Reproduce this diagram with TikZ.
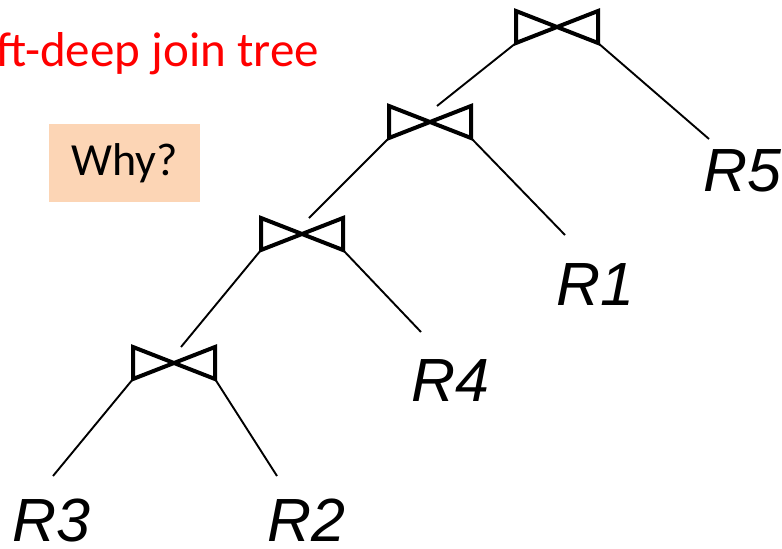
\documentclass[tikz,border=0pt]{standalone}
\usepackage{fontspec}
\setmainfont{Liberation Sans}
\newfontfamily\calfont{Carlito}
\definecolor{peach}{RGB}{252,213,181}
\begin{document}
\begin{tikzpicture}[x=1pt,y=-1pt,
  joinbox/.style={minimum width=82pt,minimum height=32pt,inner sep=0pt,outer sep=0pt},
  bow/.style={line width=4pt,line join=miter},
  edge/.style={line width=1.9pt},
  rel/.style={font=\fontsize{61}{61}\selectfont\itshape,inner sep=0pt,anchor=base west},
]
\useasboundingbox (0,0) rectangle (782,549);
\clip (0,0) rectangle (782,549);
% join operators
\node[joinbox] (j1) at (557,27) {};
\node[joinbox] (j2) at (430,122) {};
\node[joinbox] (j3) at (302,234) {};
\node[joinbox] (j4) at (174,363) {};
\foreach \j in {j1,j2,j3,j4}
  \draw[bow] (\j.north west) -- (\j.south east) -- (\j.north east) -- (\j.south west) -- cycle;
% relations
\node[rel] (r5) at (703,191) {R5};
\node[rel] (r1) at (556,305) {R1};
\node[rel] (r4) at (411,401) {R4};
\node[rel] (r3) at (12,541) {R3};
\node[rel] (r2) at (267,541) {R2};
\coordinate (e5) at (709,139);
\coordinate (e1) at (565,235);
\coordinate (e4) at (421,332);
\coordinate (e3) at (53,476);
\coordinate (e2) at (277,476);
% connectors
\draw[edge] (j1.south west) -- ([xshift=7pt]j2.north);
\draw[edge] (j2.south west) -- ([xshift=7pt]j3.north);
\draw[edge] (j3.south west) -- ([xshift=7pt]j4.north);
\draw[edge] (j1.south east) -- (e5);
\draw[edge] (j2.south east) -- (e1);
\draw[edge] (j3.south east) -- (e4);
\draw[edge] (j4.south west) -- (e3);
\draw[edge] (j4.south east) -- (e2);
% texts
\node[text=red,font=\calfont\fontsize{49}{49}\selectfont,anchor=base east,inner sep=0pt] (title) at (319,66) {Left-deep join tree};
\node[fill=peach,minimum width=151pt,minimum height=78pt,inner sep=0pt,font=\calfont\fontsize{46}{46}\selectfont] (why) at (124.5,163) {Why?};
\end{tikzpicture}
\end{document}
